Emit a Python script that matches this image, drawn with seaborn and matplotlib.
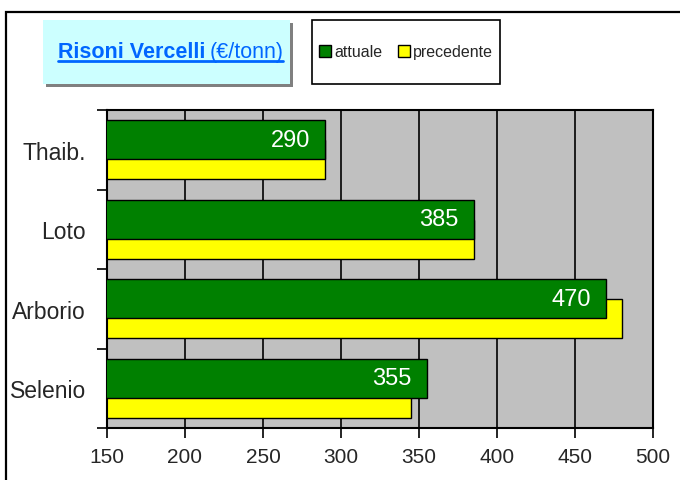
import numpy as np
import pandas as pd
import matplotlib
matplotlib.use('Agg')
import matplotlib.pyplot as plt
from matplotlib.patches import Rectangle, Patch
from matplotlib.lines import Line2D
import seaborn as sns

# dati
varieta = ['Thaib.', 'Loto', 'Arborio', 'Selenio']
attuale = [290, 385, 470, 355]
precedente = [290, 385, 480, 345]
serie = ['attuale', 'precedente']
colori = ['#008000', '#FFFF00']
xticks = [150, 200, 250, 300, 350, 400, 450, 500]

sns.set_theme(style='white')
plt.rcParams['font.family'] = ['Liberation Sans', 'DejaVu Sans']

W, H = 680, 481
fig = plt.figure(figsize=(W / 100, H / 100), dpi=100)
ax = fig.add_axes([107 / W, 1 - 429 / H, (653 - 107) / W, (429 - 111) / H])
ax.set_facecolor('#C0C0C0')

pos = np.arange(len(varieta))
off = 0.125
df_att = pd.DataFrame({'val': attuale, 'pos': pos - off})
df_pre = pd.DataFrame({'val': precedente, 'pos': pos + off})

# precedente sotto, attuale sopra (sovrapposte)
sns.barplot(data=df_pre, x='val', y='pos', orient='h', native_scale=True,
            color=colori[1], saturation=1, width=0.49, edgecolor='black',
            linewidth=1, errorbar=None, ax=ax, zorder=2)
sns.barplot(data=df_att, x='val', y='pos', orient='h', native_scale=True,
            color=colori[0], saturation=1, width=0.49, edgecolor='black',
            linewidth=1, errorbar=None, ax=ax, zorder=3)

for v, p in zip(attuale, pos - off):
    ax.annotate(str(v), (v, p), xytext=(-11, 0), textcoords='offset points',
                ha='right', va='center', color='white', fontsize=17, zorder=4)

ax.set_xlim(150, 500)
ax.set_ylim(len(varieta) - 0.5, -0.5)
ax.set_xticks(xticks)
ax.set_xticklabels([str(t) for t in xticks], fontsize=15)
ax.set_yticks(pos)
ax.set_yticklabels(varieta, fontsize=16.5)
ax.set_yticks(np.arange(len(varieta) + 1) - 0.5, minor=True)
ax.tick_params(axis='y', which='major', length=0, pad=15)
ax.tick_params(axis='y', which='minor', length=7, width=1.2, color='black', direction='out', left=True)
ax.tick_params(axis='x', length=7, width=1.2, color='black', direction='out', bottom=True, pad=7)
for t in xticks[1:-1]:
    ax.axvline(t, color='black', lw=1.2, zorder=1)
for s in ax.spines.values():
    s.set_color('black')
    s.set_linewidth(1.5)
ax.set_xlabel('')
ax.set_ylabel('')

# cornice esterna
fig.patches.append(Rectangle((6 / W, -0.05), 1.2, 1 - 13 / H + 0.05, transform=fig.transFigure,
                             fill=False, edgecolor='black', lw=1.6))

# riquadro titolo con ombra
fig.patches.append(Rectangle((46 / W, 1 - 88 / H), (290 - 43) / W, (86 - 22) / H,
                             transform=fig.transFigure, facecolor='#808080', edgecolor='none'))
fig.patches.append(Rectangle((43 / W, 1 - 85 / H), (290 - 43) / W, (86 - 22) / H,
                             transform=fig.transFigure, facecolor='#CCFFFF', edgecolor='none'))
blu = '#0066FF'
t1 = fig.text(58 / W, 1 - 58 / H, 'Risoni Vercelli', fontsize=15.5, fontweight='bold',
              color=blu, ha='left', va='baseline')
fig.canvas.draw()
r = fig.canvas.get_renderer()
bb1 = t1.get_window_extent(r)
t2 = fig.text((bb1.x1 + 4) / W, 1 - 58 / H, '(€/tonn)', fontsize=15.5, color=blu,
              ha='left', va='baseline')
bb2 = t2.get_window_extent(r)
fig.lines.append(Line2D([bb1.x0 / W, bb2.x1 / W], [1 - 62 / H, 1 - 62 / H],
                        transform=fig.transFigure, color=blu, lw=2))

# legenda
fig.patches.append(Rectangle((312 / W, 1 - 85 / H), (500 - 312) / W, (85 - 21) / H,
                             transform=fig.transFigure, facecolor='white', edgecolor='black', lw=1.2))
handles = [Patch(facecolor=c, edgecolor='black', lw=1) for c in colori]
fig.legend(handles, serie, loc='center', bbox_to_anchor=(406 / W, 1 - 53 / H), ncol=2,
           frameon=False, fontsize=11.5, handlelength=0.75, handleheight=0.75,
           handletextpad=0.2, columnspacing=1.0)

fig.savefig('out.png', dpi=100)
